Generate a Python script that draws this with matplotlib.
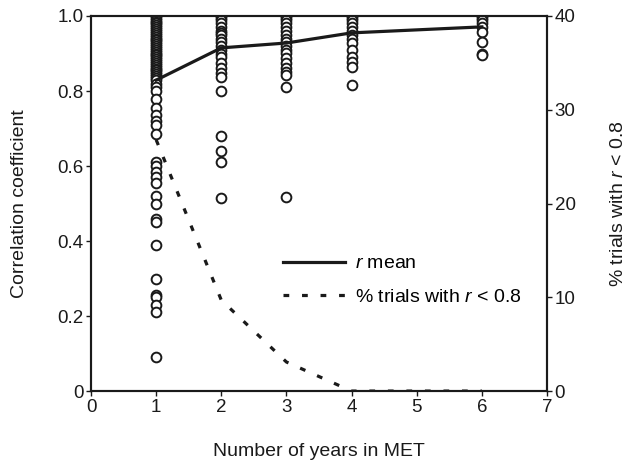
import numpy as np
import matplotlib.pyplot as plt

plt.rcParams['font.family'] = ['Liberation Sans', 'DejaVu Sans']
plt.rcParams['mathtext.fontset'] = 'custom'
plt.rcParams['mathtext.rm'] = 'Liberation Sans'
plt.rcParams['mathtext.it'] = 'Liberation Sans:italic'

# данные
years = [1, 2, 3, 4, 6]
r_mean = [0.829, 0.915, 0.928, 0.955, 0.971]
pct_low = [26.8, 9.7, 3.1, 0.0, 0.0]

r_y1 = [1.0, 0.995, 0.99, 0.985, 0.98, 0.975, 0.97, 0.965, 0.96, 0.955, 0.95,
        0.945, 0.94, 0.935, 0.93, 0.925, 0.92, 0.915, 0.91, 0.905, 0.90, 0.895,
        0.89, 0.885, 0.88, 0.875, 0.87, 0.865, 0.86, 0.855, 0.85, 0.845, 0.84,
        0.835, 0.83, 0.82, 0.81, 0.80, 0.78, 0.755, 0.735, 0.72, 0.71, 0.685,
        0.61, 0.60, 0.585, 0.57, 0.555, 0.52, 0.50, 0.46, 0.45, 0.39, 0.30,
        0.255, 0.25, 0.23, 0.21, 0.09]
r_y2 = [1.0, 0.995, 0.99, 0.98, 0.97, 0.96, 0.955, 0.95, 0.94, 0.93, 0.92,
        0.91, 0.90, 0.89, 0.875, 0.861, 0.848, 0.837, 0.80, 0.68, 0.64, 0.61,
        0.515]
r_y3 = [1.0, 0.995, 0.99, 0.98, 0.97, 0.96, 0.95, 0.94, 0.93, 0.92, 0.91,
        0.901, 0.888, 0.875, 0.861, 0.851, 0.843, 0.811, 0.517]
r_y4 = [1.0, 0.995, 0.99, 0.98, 0.97, 0.96, 0.95, 0.94, 0.928, 0.909, 0.891,
        0.877, 0.864, 0.816]
r_y6 = [1.0, 0.995, 0.99, 0.98, 0.97, 0.957, 0.931, 0.90, 0.896]
trials = {1: r_y1, 2: r_y2, 3: r_y3, 4: r_y4, 6: r_y6}

fig = plt.figure(figsize=(6.29, 4.65), dpi=100)
ax = fig.add_axes([0.1447, 0.159, 0.7249, 0.8066])
ax2 = ax.twinx()

for yr, vals in trials.items():
    ax.plot([yr] * len(vals), vals, 'o', mfc='white', mec='#1a1a1a',
            mew=1.4, ms=7, zorder=2)

l1, = ax.plot(years, r_mean, color='#1a1a1a', lw=2.3, zorder=3, label='$r$ mean')
l2, = ax2.plot(years, pct_low, color='#1a1a1a', lw=2.3,
               dashes=(1.8, 4.0), label='% trials with $r$ < 0.8')

ax.set_xlim(0, 7)
ax.set_ylim(0, 1.0)
ax2.set_ylim(0, 40)
ax.set_xticks(range(8))
ax.set_yticks([0, 0.2, 0.4, 0.6, 0.8, 1.0])
ax.set_yticklabels(['0', '0.2', '0.4', '0.6', '0.8', '1.0'])
ax2.set_yticks([0, 10, 20, 30, 40])

for a in (ax, ax2):
    for s in a.spines.values():
        s.set_linewidth(1.5)
        s.set_color('#1a1a1a')
    a.tick_params(direction='out', length=3.5, width=1.0, labelsize=13.5,
                  colors='#1a1a1a', pad=2)

ax.set_xlabel('Number of years in MET', fontsize=14, color='#1a1a1a')
ax.set_ylabel('Correlation coefficient', fontsize=14, color='#1a1a1a')
ax2.set_ylabel('% trials with $r$ < 0.8', fontsize=14, color='#1a1a1a')
ax.xaxis.set_label_coords(0.5, -0.16)
ax.yaxis.set_label_coords(-0.156, 0.5)
ax2.yaxis.set_label_coords(1.156, 0.5)
ax.xaxis.label.set_va('center')
ax.yaxis.label.set_va('center')
ax2.yaxis.label.set_va('center')

ax2.legend([l1, l2], [l1.get_label(), l2.get_label()], frameon=False,
           loc='upper left', bbox_to_anchor=(0.382, 0.41), fontsize=14,
           handlelength=3.2, labelspacing=0.8, handletextpad=0.5)

fig.savefig('out.png', dpi=100)
